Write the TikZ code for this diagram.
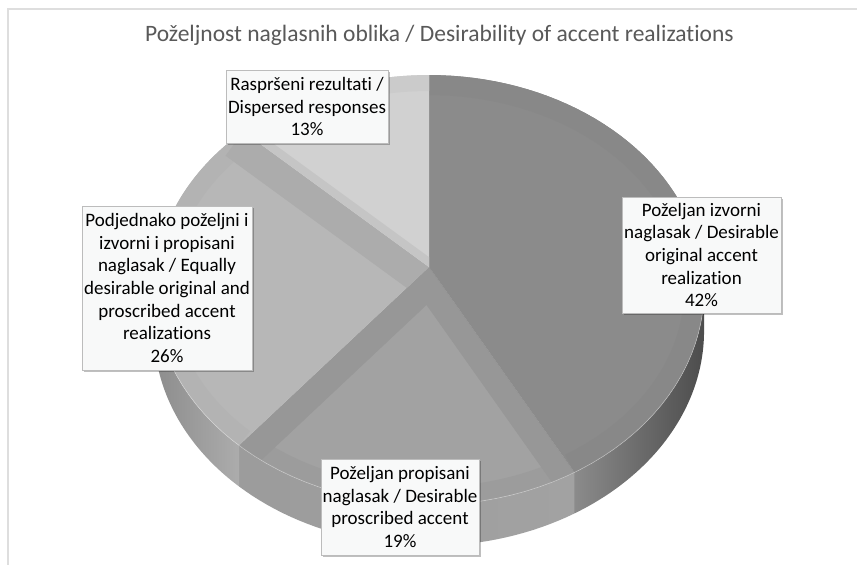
\documentclass[tikz,border=0pt]{standalone}
\usepackage{fontspec}
\setmainfont{Carlito}[Ligatures=NoCommon]
\usetikzlibrary{shadows}
\definecolor{titlegray}{HTML}{595959}
\definecolor{framegray}{HTML}{DEDEDE}
\definecolor{boxfill}{HTML}{F8F9F9}
\definecolor{boxedge}{HTML}{BCBCBC}
\definecolor{faceA}{HTML}{8B8B8B}
\definecolor{bandA}{HTML}{888888}
\definecolor{faceB}{HTML}{A2A2A2}
\definecolor{bandB}{HTML}{979797}
\definecolor{rimB}{HTML}{9C9C9C}
\definecolor{faceC}{HTML}{B7B7B7}
\definecolor{bandC}{HTML}{ACACAC}
\definecolor{rimC}{HTML}{B3B3B3}
\definecolor{faceD}{HTML}{D1D1D1}
\definecolor{bandD}{HTML}{C5C5C5}
\definecolor{rimD}{HTML}{CBCBCB}
\tikzset{%
  declare function={px(\a)=429+273.5*sin(\a)/(1+0.107*cos(\a));
                    py(\a)=267-212.5*cos(\a)/(1+0.107*cos(\a));},
  % Specifications for style of slices:
        sector/.style 2 args = {insert path={(429,267) -- plot[domain=#1:#2, samples=60]
                                ({px(\x)},{py(\x)}) -- cycle}},
           rim/.style 2 args = {insert path={plot[domain=#1:#2, samples=60] ({px(\x)},{py(\x)})}},
       spoke/.style = {insert path={(429,267) -- ({px(#1)},{py(#1)})}},
     sidepart/.style 2 args = {insert path={plot[domain=#1:#2, samples=40] ({px(\x)},{py(\x)})
                                -- plot[domain=#2:#1, samples=40] ({px(\x)},{py(\x)+41}) -- cycle}},
  % Specifications for style of nodes:
          base/.style = {rectangle, draw=boxedge, fill=boxfill, align=center,
                         inner sep=0pt, font=\fontsize{19}{22.6}\selectfont,
                         drop shadow={shadow xshift=1.5pt, shadow yshift=-1.5pt,
                                      fill=black, opacity=0.25}},
      labelbox/.style = {base},
}

\begin{document}
\begin{tikzpicture}[x=1pt, y=-1pt]
  \useasboundingbox (0,0) rectangle (857,565);
  \fill[white] (0,0) rectangle (857,565);
  \draw[framegray, line width=1.2pt] (8,565) -- (8,9) -- (857,9);

  % Side of the pie
  \shade[sidepart={96.1}{151.2}, left color=faceA, right color=black!70];
  \shade[sidepart={151.2}{219.6}, left color=faceB!96!black, right color=faceB];
  \shade[sidepart={219.6}{263.9}, left color=black!45, right color=faceC!94!black];

  % Top face, one bevelled slice after another
  \begin{scope}
    \fill[faceA, sector={0}{151.2}];
    \clip[sector={0}{151.2}];
    \draw[bandA, line width=40pt, rim={0}{151.2}];
  \end{scope}
  \begin{scope}
    \fill[faceB, sector={151.2}{219.6}];
    \clip[sector={151.2}{219.6}];
    \draw[rimB, line width=36pt, rim={151.2}{219.6}];
    \draw[bandB, line width=48pt, spoke=151.2];
    \draw[bandB, line width=52pt, spoke=219.6];
  \end{scope}
  \begin{scope}
    \fill[faceC, sector={219.6}{313.2}];
    \clip[sector={219.6}{313.2}];
    \draw[rimC, line width=36pt, rim={219.6}{313.2}];
    \draw[bandC, line width=60pt, spoke=313.2];
  \end{scope}
  \begin{scope}
    \fill[faceD, sector={313.2}{360}];
    \clip[sector={313.2}{360}];
    \draw[rimD, line width=32pt, rim={313.2}{360}];
    \draw[bandD, line width=16pt, spoke=313.2];
  \end{scope}
  \draw[black!45, line width=0.4pt, opacity=0.5, spoke=151.2];
  \draw[white, line width=0.6pt, opacity=0.4, rim={96.1}{263.9}];

  % Labels of the slices
  \node (title)     at (439.5,35) [font=\fontsize{23.5}{28}\selectfont, text=titlegray]
                    {Poželjnost naglasnih oblika / Desirability of accent realizations};
  \node (original)  at (701.5,255) [labelbox, minimum width=159, minimum height=116]
                    {Poželjan izvorni\\naglasak / Desirable\\original accent\\realization\\42\%};
  \node (proscribed) at (400,507) [labelbox, minimum width=158, minimum height=96]
                    {Poželjan propisani\\naglasak / Desirable\\proscribed accent\\19\%};
  \node (equally)   at (167,288) [labelbox, minimum width=170, minimum height=164]
                    {Podjednako poželjni i\\izvorni i propisani\\naglasak / Equally\\desirable original and\\proscribed accent\\realizations\\26\%};
  \node (dispersed) at (307,106.5) [labelbox, minimum width=162, minimum height=73]
                    {Raspršeni rezultati /\\Dispersed responses\\13\%};
\end{tikzpicture}
\end{document}
